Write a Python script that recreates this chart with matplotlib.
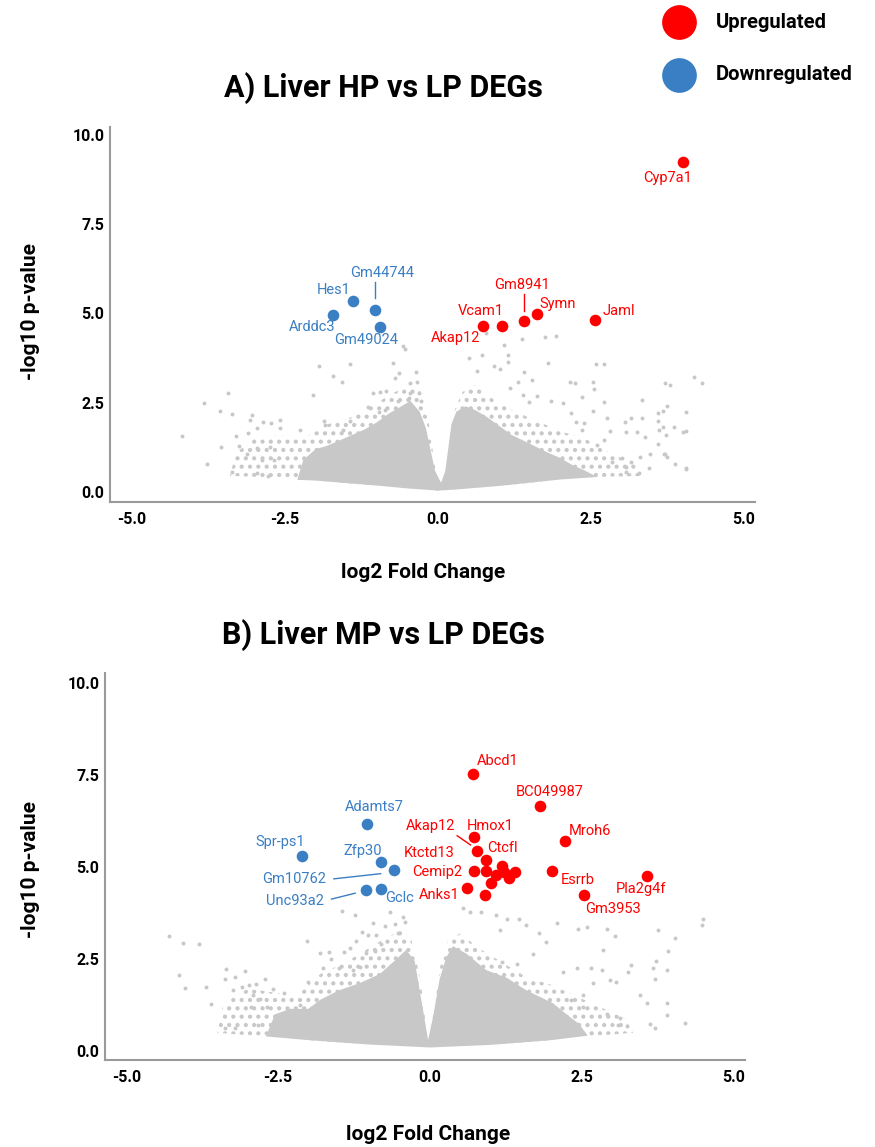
import matplotlib
matplotlib.use('Agg')
import matplotlib.pyplot as plt
import numpy as np
from matplotlib.lines import Line2D

plt.rcParams['font.family'] = ['Roboto', 'DejaVu Sans']
plt.rcParams['hatch.linewidth'] = 1.8

RED = '#ff0000'
BLUE = '#3a7ec3'
GREY = '#c8c8c8'

# ---- panel A: Liver HP vs LP ----
a_up_x = [4.01, 0.73, 1.04, 1.40, 1.62, 2.56]
a_up_y = [9.25, 4.65, 4.65, 4.78, 4.98, 4.82]
a_down_x = [-1.39, -1.03, -1.71, -0.94]
a_down_y = [5.35, 5.11, 4.97, 4.62]

a_up_labels = ['Cyp7a1', 'Vcam1', 'Akap12', 'Gm8941', 'Symn', 'Jaml']
a_up_lab_x = [3.75, 0.70, 0.29, 1.37, 1.96, 2.96]
a_up_lab_y = [8.79, 5.07, 4.32, 5.80, 5.26, 5.07]
a_down_labels = ['Gm44744', 'Hes1', 'Arddc3', 'Gm49024']
a_down_lab_x = [-0.92, -1.71, -2.05, -1.18]
a_down_lab_y = [6.14, 5.67, 4.63, 4.25]

# leader lines (label -> point): kind, x0, x1, y0, y1
a_lines = [('down', -1.03, -1.03, 5.89, 5.42), ('up', 1.40, 1.40, 5.54, 5.07)]

# dense core of non-significant genes (upper / lower edge)
a_core_top_x = [-2.3, -2.2, -2.0, -1.8, -1.6, -1.4, -1.2, -1.0, -0.8, -0.6, -0.45, -0.3,
                -0.2, -0.05, 0.05, 0.12, 0.22, 0.3, 0.45, 0.6, 0.8, 1.0, 1.2, 1.5, 1.8, 2.0,
                2.2, 2.4, 2.6]
a_core_top_y = [0.34, 0.9, 1.2, 1.3, 1.45, 1.6, 1.75, 1.95, 2.2, 2.4, 2.55, 2.25,
                1.8, 0.6, 0.25, 0.6, 1.9, 2.25, 2.4, 2.3, 2.1, 1.85, 1.6, 1.35, 1.1, 0.95,
                0.75, 0.6, 0.42]
a_core_bot_x = [-2.3, -2.0, -1.5, -1.0, -0.5, 0.0, 0.3, 1.0, 2.0, 2.6]
a_core_bot_y = [0.34, 0.32, 0.25, 0.18, 0.1, 0.04, 0.07, 0.17, 0.35, 0.42]

# looser, medium-density zone around the core
a_halo_top_x = [-3.4, -3.3, -3.0, -2.6, -2.2, -1.8, -1.4, -1.0, -0.7, -0.45, -0.28, -0.15,
                -0.03, 0.05, 0.13, 0.25, 0.4, 0.6, 0.9, 1.2, 1.6, 2.0, 2.4, 2.8, 3.2, 3.35]
a_halo_top_y = [0.45, 1.1, 1.5, 1.6, 1.5, 1.9, 2.1, 2.5, 2.8, 3.0, 2.8, 1.9,
                0.5, 0.25, 0.5, 2.2, 2.8, 3.0, 2.6, 2.3, 2.0, 1.7, 1.5, 1.1, 0.8, 0.45]
a_halo_bot_x = [-3.4, -2.6, -2.0, -1.5, -1.0, -0.5, 0.0, 0.3, 1.0, 2.0, 2.6, 3.35]
a_halo_bot_y = [0.45, 0.4, 0.32, 0.25, 0.18, 0.1, 0.04, 0.07, 0.17, 0.35, 0.42, 0.45]

# scattered non-significant genes outside the core
a_bg_x = [-4.19, -3.83, -3.43, -3.56, -3.37, -3.54, -3.78, -3.37, -3.07, -3.04, -3.30, -3.11,
          -2.96, -2.86, -2.73, -2.59, -2.58, -3.26, -3.12, -2.96, -2.88, -2.95, -2.77, -2.74,
          -2.68, -2.25, -2.05, -1.95, -1.71, -1.57, -1.43, -1.87, -1.84, -1.43, -1.56, -1.14,
          -1.06, -0.95, -0.85, -0.74, -0.70, -0.63, -0.58, -0.54, -0.46, -0.36, -0.35, -0.46,
          -0.31, -0.27, -0.48, -0.65, -0.86, -0.97,
          0.79, 1.08, 1.37, 1.75, 1.93, 0.51, 0.72, 1.15, 1.14, 1.80, 2.58, 2.71, 0.92, 1.01,
          1.41, 0.63, 1.31, 1.53, 2.15, 2.24, 2.54, 2.55, 3.71, 3.79, 4.19, 4.31, 1.18, 1.39,
          1.61, 1.49, 1.84, 2.04, 2.35, 2.71, 2.54, 2.18, 3.33, 3.74, 3.68, 3.59, 4.06, 2.76,
          3.16, 3.34, 2.25, 2.39, 3.05, 3.59, 3.67, 3.85, 3.61, 4.05, 2.36, 2.81, 3.08, 3.25,
          3.72, 3.38, 3.60, 3.46, 3.30, 3.71, 3.75, 3.88, 4.05, 3.44, 3.29, 3.08, 3.16, 3.00,
          2.84, 3.08, 2.59, 2.71, 3.69, 4.00, 4.06]
a_bg_y = [1.57, 2.50, 2.78, 2.28, 2.18, 1.27, 0.78, 0.55, 2.03, 2.16, 1.57, 1.66,
          1.80, 1.97, 1.94, 2.03, 1.78, 1.29, 1.07, 1.22, 0.89, 0.52, 0.46, 1.27,
          0.91, 1.74, 2.72, 3.54, 3.26, 3.07, 3.59, 2.00, 1.88, 2.00, 1.74, 2.37,
          2.78, 2.80, 2.84, 3.60, 3.20, 3.34, 4.10, 4.00, 3.06, 3.35, 3.07, 2.78,
          2.78, 2.56, 2.62, 2.55, 2.30, 2.25,
          4.46, 4.11, 4.28, 4.33, 4.37, 3.74, 3.84, 3.84, 3.63, 3.62, 3.58, 3.58, 3.54, 3.44,
          3.37, 3.40, 3.09, 3.14, 3.09, 3.04, 3.09, 2.88, 3.06, 2.99, 3.23, 3.04, 2.90, 2.72,
          2.69, 2.53, 2.56, 2.48, 2.67, 2.53, 2.28, 2.20, 2.59, 2.41, 2.28, 2.20, 2.25, 2.06,
          2.06, 2.06, 1.97, 1.94, 1.97, 1.99, 1.83, 1.81, 1.74, 1.72, 1.74, 1.72, 1.69, 1.69,
          1.60, 1.53, 1.34, 1.06, 0.99, 1.06, 0.97, 0.79, 0.66, 0.66, 0.52, 0.57, 0.85, 0.94,
          0.85, 0.71, 1.31, 1.45, 1.07, 1.68, 0.65]

# ---- panel B: Liver MP vs LP ----
b_up_x = [0.71, 1.82, 0.73, 0.77, 0.92, 1.19, 0.72, 0.92, 1.09, 1.22, 1.41, 1.31, 1.01,
          0.61, 0.91, 2.22, 2.01, 3.58, 2.54]
b_up_y = [7.52, 6.66, 5.81, 5.44, 5.20, 5.04, 4.88, 4.88, 4.78, 4.86, 4.86, 4.70, 4.57,
          4.42, 4.23, 5.70, 4.88, 4.77, 4.23]
b_down_x = [-1.04, -2.11, -0.81, -0.59, -1.05, -0.81]
b_down_y = [6.16, 5.31, 5.13, 4.91, 4.38, 4.41]

b_up_labels = ['Abcd1', 'BC049987', 'Akap12', 'Hmox1', 'Mroh6', 'Ctcfl', 'Ktctd13', 'Cemip2',
               'Esrrb', 'Pla2g4f', 'Anks1', 'Gm3953']
b_up_lab_x = [1.11, 1.97, 0.01, 1.00, 2.64, 1.19, -0.01, 0.12, 2.43, 3.48, 0.15, 3.02]
b_up_lab_y = [7.89, 7.04, 6.12, 6.12, 5.98, 5.53, 5.37, 4.86, 4.65, 4.41, 4.25, 3.85]
b_down_labels = ['Adamts7', 'Spr-ps1', 'Zfp30', 'Gm10762', 'Unc93a2', 'Gclc']
b_down_lab_x = [-0.92, -2.46, -1.10, -2.24, -2.22, -0.50]
b_down_lab_y = [6.63, 5.69, 5.44, 4.67, 4.07, 4.16]

b_lines = [('up', 0.45, 0.67, 5.85, 5.60), ('down', -1.58, -0.81, 4.68, 4.82),
           ('down', -1.62, -1.23, 4.13, 4.29)]

b_core_top_x = [-2.7, -2.55, -2.3, -2.0, -1.8, -1.5, -1.15, -0.82, -0.55, -0.39, -0.25, -0.1,
                -0.03, 0.05, 0.16, 0.27, 0.38, 0.6, 0.93, 1.26, 1.59, 2.03, 2.25, 2.45, 2.6]
b_core_top_y = [0.4, 1.0, 1.15, 1.15, 1.4, 1.65, 1.85, 2.1, 2.5, 2.75, 2.45, 1.0,
                0.3, 0.9, 1.95, 2.55, 2.85, 2.65, 2.2, 2.0, 1.65, 1.3, 1.0, 0.75, 0.42]
b_core_bot_x = [-2.7, -2.0, -1.0, 0.0, 1.0, 2.0, 2.6]
b_core_bot_y = [0.4, 0.3, 0.18, 0.1, 0.17, 0.3, 0.42]

b_halo_top_x = [-3.5, -3.4, -3.0, -2.6, -2.2, -1.8, -1.4, -1.0, -0.7, -0.45, -0.3, -0.15,
                -0.04, 0.06, 0.18, 0.3, 0.5, 0.8, 1.2, 1.6, 2.0, 2.4, 2.8, 3.2, 3.35]
b_halo_top_y = [0.5, 1.3, 1.7, 1.6, 1.5, 2.1, 2.4, 2.8, 3.1, 3.3, 3.0, 1.9,
                0.3, 1.0, 2.4, 3.0, 3.2, 2.8, 2.4, 2.0, 1.8, 1.5, 1.2, 0.9, 0.5]
b_halo_bot_x = [-3.5, -2.75, -2.0, -1.0, 0.0, 1.0, 2.0, 2.6, 3.35]
b_halo_bot_y = [0.5, 0.4, 0.3, 0.18, 0.1, 0.17, 0.3, 0.4, 0.5]

b_bg_x = [-4.29, -4.07, -3.80, -4.13, -4.03, -3.69, -3.61, -3.36, -3.38, -3.21, -3.04, -3.38,
          -3.21, -3.24, -3.10, -2.98, -2.86, -2.71, -2.91, -2.80, -2.94, -2.69, -2.83, -2.58,
          -2.40, -2.00, -2.02, -1.81, -1.66, -1.63, -1.76, -1.49, -1.42, -1.32, -1.21, -1.45,
          -1.24, -1.12, -1.02, -0.94, -0.88, -0.74, -0.66, -0.58, -0.44, -0.41, -0.52, -1.05,
          -0.91, -0.80, -1.26, -1.15, -2.14, -1.87,
          0.55, 0.66, 0.84, 1.09, 1.27, 1.46, 1.59, 2.09, 2.44, 2.58, 2.91, 3.76, 4.50, 4.48,
          4.04, 3.05, 2.85, 3.93, 3.73, 3.68, 3.32, 3.90, 3.71, 2.66, 2.83, 2.96, 3.07, 3.27,
          2.69, 2.42, 2.20, 1.92, 1.70, 1.43, 1.18, 1.15, 1.79, 3.46, 3.57, 3.90, 3.90, 3.62,
          3.71, 4.20, 3.13, 3.24, 3.10, 2.91, 2.53, 2.53, 2.33]
b_bg_y = [3.13, 2.94, 2.91, 2.08, 1.72, 1.75, 1.27, 2.22, 1.97, 2.02, 2.17, 0.62,
          0.63, 1.66, 1.75, 1.80, 1.82, 1.97, 1.52, 1.43, 1.20, 1.20, 0.71, 1.70,
          1.57, 1.88, 2.99, 2.67, 2.69, 2.50, 2.27, 2.25, 2.69, 2.79, 2.99, 3.81,
          3.70, 3.24, 3.15, 3.49, 3.15, 3.40, 3.79, 3.45, 3.65, 3.51, 3.20, 2.67,
          2.72, 2.92, 2.20, 2.29, 1.25, 1.20,
          3.88, 3.79, 3.79, 3.70, 3.58, 3.58, 3.42, 3.47, 3.33, 3.38, 3.33, 3.29, 3.60, 3.42,
          3.06, 3.12, 2.76, 2.72, 2.45, 2.27, 2.33, 2.20, 1.97, 2.25, 2.20, 1.93, 1.88, 2.15,
          1.86, 2.25, 2.16, 2.97, 2.65, 2.38, 2.42, 3.29, 3.20, 1.52, 1.30, 1.30, 0.98, 0.75,
          0.62, 0.77, 0.89, 0.67, 0.71, 1.02, 1.52, 1.21, 1.39]

W, H = 875, 1147


def fx(px):
    return px / W


def fy(py):
    return 1 - py / H


def draw_panel(ax, halo, core, bg_x, bg_y, up_x, up_y, down_x, down_y,
               up_labels, up_lab_x, up_lab_y, down_labels, down_lab_x, down_lab_y, lines):
    # medium density zone as a dotted hatch, dense core as solid grey
    hx = np.r_[halo[0], halo[2][::-1]]
    hy = np.r_[halo[1], halo[3][::-1]]
    ax.fill(hx, hy, facecolor='none', edgecolor=GREY, hatch='..', lw=0, zorder=1)
    cx = np.r_[core[0], core[2][::-1]]
    cy = np.r_[core[1], core[3][::-1]]
    ax.fill(cx, cy, color=GREY, lw=0, zorder=1)
    ax.scatter(bg_x, bg_y, s=8, color=GREY, linewidths=0, zorder=1)

    ax.scatter(up_x, up_y, s=70, color=RED, linewidths=0, zorder=3)
    ax.scatter(down_x, down_y, s=70, color=BLUE, linewidths=0, zorder=3)
    for name, x, y in zip(up_labels, up_lab_x, up_lab_y):
        ax.text(x, y, name, color=RED, fontsize=10.5, ha='center', va='center', zorder=4)
    for name, x, y in zip(down_labels, down_lab_x, down_lab_y):
        ax.text(x, y, name, color=BLUE, fontsize=10.5, ha='center', va='center', zorder=4)
    for kind, x0, x1, y0, y1 in lines:
        ax.plot([x0, x1], [y0, y1], color=RED if kind == 'up' else BLUE, lw=1, zorder=2)

    ax.set_xticks([-5, -2.5, 0, 2.5, 5])
    ax.set_xticklabels(['-5.0', '-2.5', '0.0', '2.5', '5.0'])
    ax.set_yticks([0, 2.5, 5, 7.5, 10])
    ax.set_yticklabels(['0.0', '2.5', '5.0', '7.5', '10.0'])
    ax.tick_params(length=0, labelsize=11.5, pad=4)
    ax.tick_params(axis='x', pad=7)
    for lab in ax.get_xticklabels() + ax.get_yticklabels():
        lab.set_fontweight('bold')
    for side in ['top', 'right']:
        ax.spines[side].set_visible(False)
    for side in ['left', 'bottom']:
        ax.spines[side].set_color('#9a9a9a')
        ax.spines[side].set_linewidth(1.5)


fig = plt.figure(figsize=(8.75, 11.47), dpi=100)

ax_a = fig.add_axes([fx(110), fy(502), fx(755) - fx(110), fy(127) - fy(502)])
draw_panel(ax_a,
           (a_halo_top_x, a_halo_top_y, a_halo_bot_x, a_halo_bot_y),
           (a_core_top_x, a_core_top_y, a_core_bot_x, a_core_bot_y),
           a_bg_x, a_bg_y, a_up_x, a_up_y, a_down_x, a_down_y,
           a_up_labels, a_up_lab_x, a_up_lab_y, a_down_labels, a_down_lab_x, a_down_lab_y,
           a_lines)
ax_a.set_xlim(-5.36, 5.18)
ax_a.set_ylim(-0.28, 10.22)

ax_b = fig.add_axes([fx(105), fy(1060), fx(745) - fx(105), fy(673) - fy(1060)])
draw_panel(ax_b,
           (b_halo_top_x, b_halo_top_y, b_halo_bot_x, b_halo_bot_y),
           (b_core_top_x, b_core_top_y, b_core_bot_x, b_core_bot_y),
           b_bg_x, b_bg_y, b_up_x, b_up_y, b_down_x, b_down_y,
           b_up_labels, b_up_lab_x, b_up_lab_y, b_down_labels, b_down_lab_x, b_down_lab_y,
           b_lines)
ax_b.set_xlim(-5.35, 5.19)
ax_b.set_ylim(-0.24, 10.27)

# titles and axis labels
fig.text(fx(383), fy(88), 'A) Liver HP vs LP DEGs', fontsize=22, fontweight='bold',
         ha='center', va='center')
fig.text(fx(383), fy(635), 'B) Liver MP vs LP DEGs', fontsize=22, fontweight='bold',
         ha='center', va='center')
fig.text(fx(423), fy(572), 'log2 Fold Change', fontsize=15, fontweight='bold',
         ha='center', va='center')
fig.text(fx(428), fy(1135), 'log2 Fold Change', fontsize=15, fontweight='bold',
         ha='center', va='center')
fig.text(fx(30), fy(312), '-log10 p-value', fontsize=15, fontweight='bold',
         ha='center', va='center', rotation=90)
fig.text(fx(30), fy(870), '-log10 p-value', fontsize=15, fontweight='bold',
         ha='center', va='center', rotation=90)

# legend
for py, color, label in [(22, RED, 'Upregulated'), (75, BLUE, 'Downregulated')]:
    fig.add_artist(Line2D([fx(679)], [fy(py)], marker='o', markersize=25, color=color,
                          markeredgewidth=0, linestyle='none', transform=fig.transFigure))
    fig.text(fx(716), fy(py), label, fontsize=14.5, fontweight='bold', ha='left', va='center')

fig.savefig('out.png', dpi=100)
